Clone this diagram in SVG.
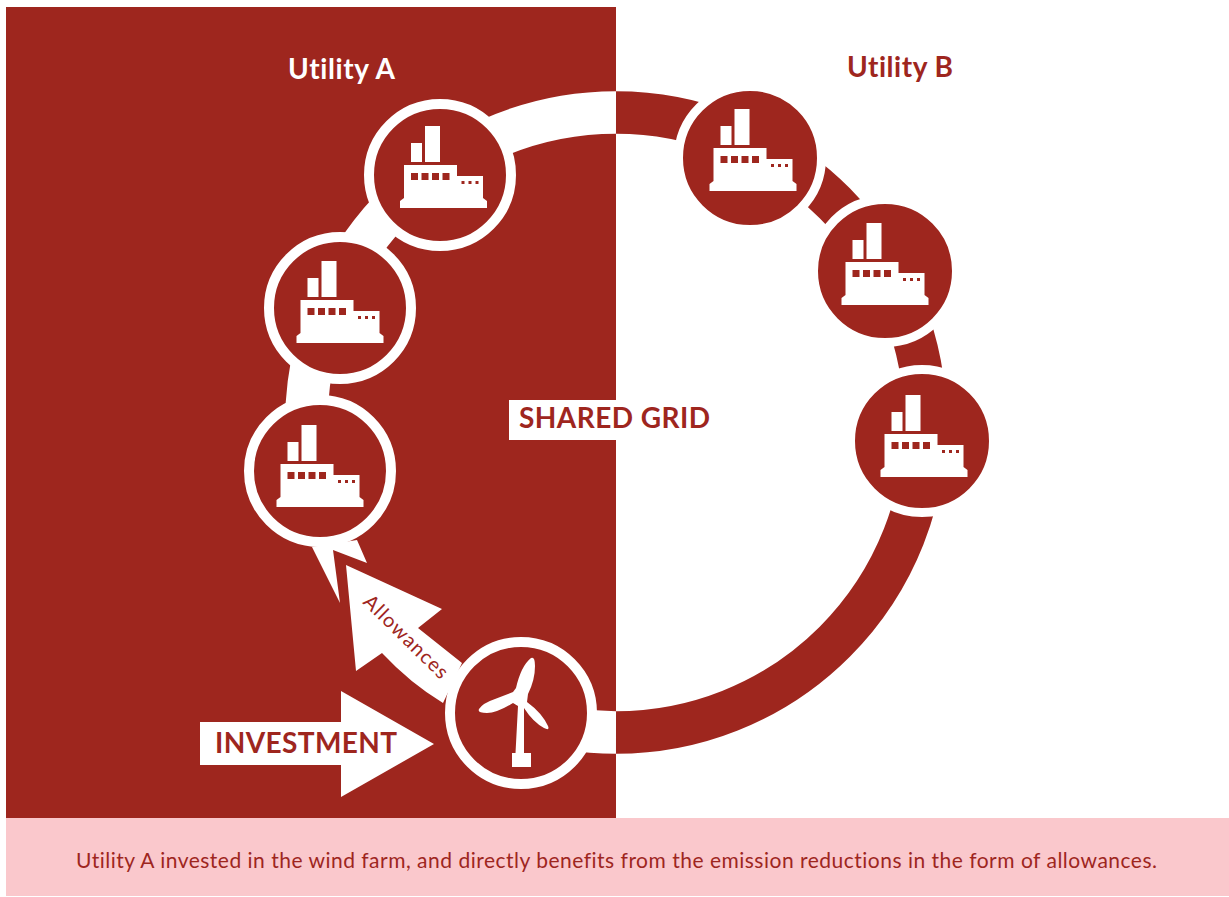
<svg xmlns="http://www.w3.org/2000/svg" width="1229" height="897" viewBox="0 0 1229 897">
<style>
.ring{fill:none;stroke-width:42.500}
.w{fill:#fff}
.r{fill:#9e261e}
text{font-family:"Lato","Liberation Sans",sans-serif;font-variant-ligatures:none}
.b{font-weight:700}
</style>
<defs>
<g id="factory">
<path class="w" d="M-32.500 -40H-21.500V-59H-32.500ZM-18.500 -40H-3.500V-76H-18.500ZM-39.500 -4V-37H13.500V-26H39.500V-4L43.500 -1V6H-43.500V-1Z"/>
<path class="r" d="M-32.500 -29h7v7h-7zM-22 -29h7v7h-7zM-11.500 -29h7v7h-7zM-1 -29h7v7h-7zM18 -21h3v3h-3zM25 -21h3v3h-3zM32 -21h3v3h-3z"/>
</g>
</defs>
<rect width="1229" height="897" fill="#fff"/>
<g id="background">
<rect class="r" x="6" y="7" width="610" height="811"/>
<rect x="6" y="818" width="1223" height="78" fill="#fac8cc"/>
</g>
<g id="connectors">
<path class="ring" stroke="#9e261e" d="M616 112.500A309.500 310 0 0 1 616 732.500"/>
<path class="ring" stroke="#fff" d="M616 112.500A309.500 310 0 0 0 310.500 472.500"/>
<path class="ring" stroke="#fff" d="M519.600 717A309.500 310 0 0 0 616 732.500"/>
<path id="allowances-arrow" class="w" d="M346 565L442 609L418 628L462 663L443 703Q410 683 382 653L356 671Z"/>
<path id="investment-arrow" class="w" d="M200 722H341V691L434 744L341 797V765H200Z"/>
</g>
<g id="node-a1"><circle class="r" cx="440" cy="175" r="71" stroke="#fff" stroke-width="10"/><use href="#factory" x="443.500" y="202"/></g>
<g id="node-a2"><circle class="r" cx="340" cy="308" r="71" stroke="#fff" stroke-width="10"/><use href="#factory" x="340" y="337"/></g>
<g id="node-a3"><path class="w" d="M312 547L340 603L333 550L367 563L357 540Z"/><circle class="r" cx="320" cy="471" r="71" stroke="#fff" stroke-width="10"/><use href="#factory" x="320" y="501"/></g>
<g id="node-b1"><circle class="r" cx="750" cy="158" r="71.500" stroke="#fff" stroke-width="9"/><use href="#factory" x="753" y="185"/></g>
<g id="node-b2"><circle class="r" cx="885" cy="271" r="71.500" stroke="#fff" stroke-width="9"/><use href="#factory" x="885" y="299"/></g>
<g id="node-b3"><circle class="r" cx="922" cy="441" r="71.500" stroke="#fff" stroke-width="9"/><use href="#factory" x="924" y="471"/></g>
<g id="node-wind"><circle class="r" cx="521" cy="713" r="71" stroke="#fff" stroke-width="10"/>
<path class="w" d="M512 753H515.500L518 706L513 703Q497 713 487 713Q477 713 479 709Q483 703 495 699L513 692L516 688Q521 666 531 658Q535 656 535 666Q535 680 528 694L527 702Q542 713 548 726Q550 731 544 728Q533 722 524 708V753H531V767H512Z"/></g>
<g id="shared-grid"><rect class="w" x="509" y="400" width="107" height="40"/><text class="b r" x="519" y="427.500" font-size="28" textLength="191">SHARED GRID</text></g>
<text class="b w" x="288" y="78.500" font-size="28" textLength="107">Utility A</text>
<text class="b r" x="847" y="77" font-size="28" textLength="106">Utility B</text>
<text class="b r" x="215" y="753" font-size="28" textLength="182">INVESTMENT</text>
<text class="r" transform="translate(362,603) rotate(44.500)" font-size="20" textLength="110">Allowances</text>
<text class="r" x="76" y="868" font-size="21" textLength="1081">Utility A invested in the wind farm, and directly benefits from the emission reductions in the form of allowances.</text>
</svg>
